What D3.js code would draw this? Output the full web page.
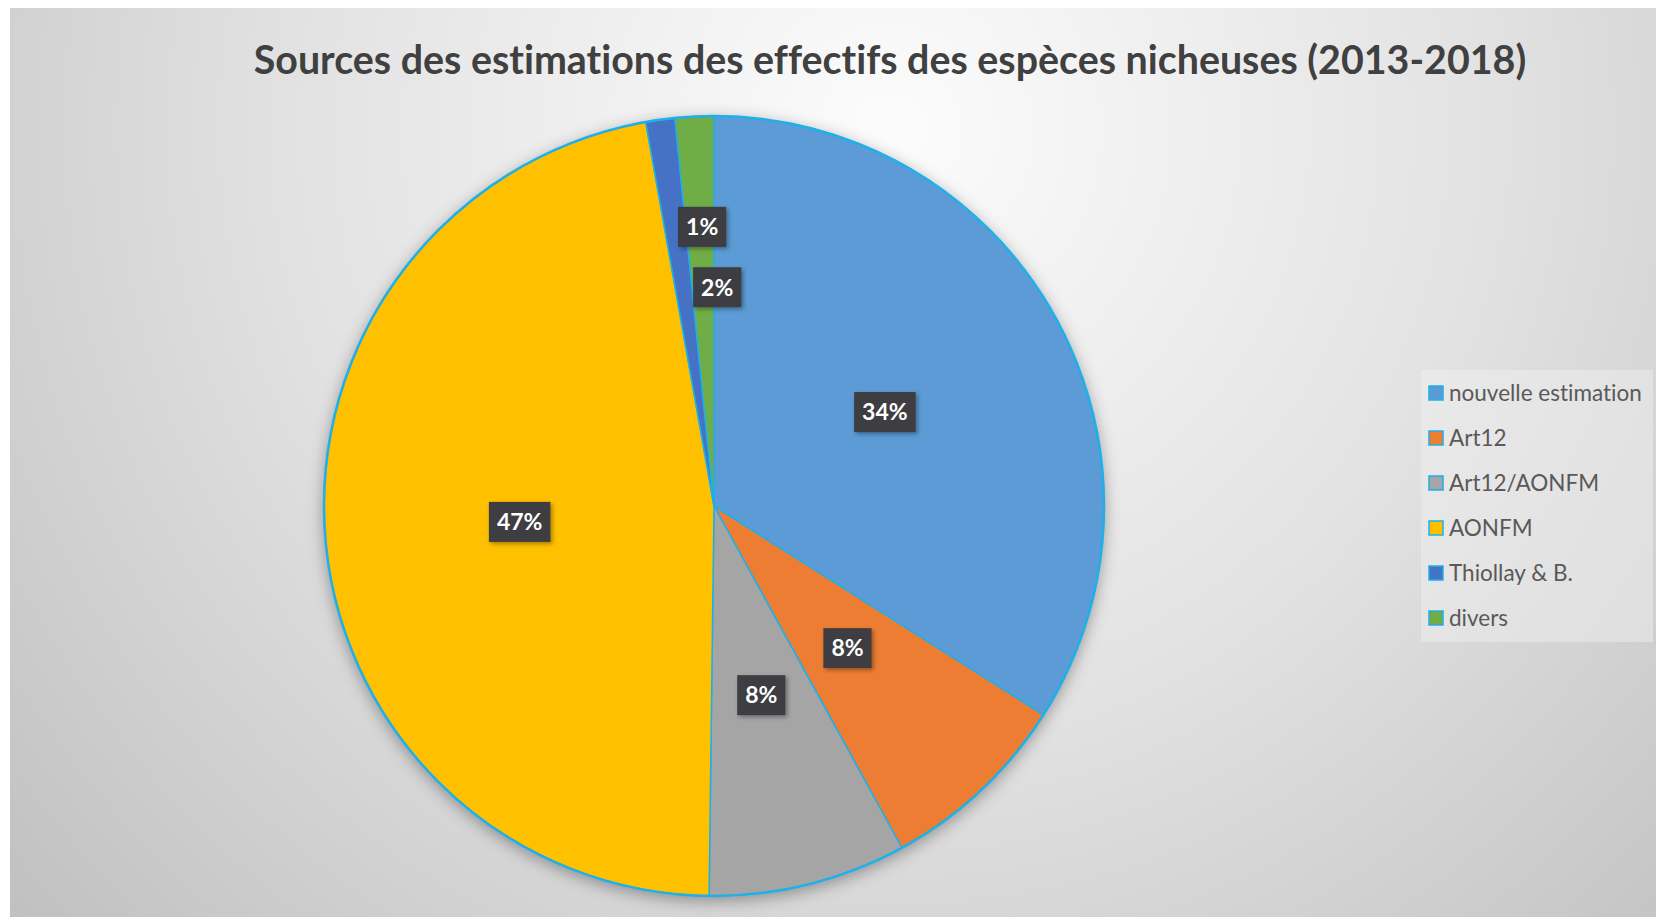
<!DOCTYPE html>
<html>
<head>
<meta charset="utf-8">
<script src="https://cdn.jsdelivr.net/npm/d3@7"></script>
<style>
  body { margin: 0; background: #fff; }
  svg { display: block; }
  text { font-variant-ligatures: none; }
</style>
</head>
<body>
<svg class="chart"></svg>
<script>
// parts of the breeding species estimates, by source (percent)
var sources = ["nouvelle estimation", "Art12", "Art12/AONFM", "AONFM", "Thiollay & B.", "divers"];
var shares = [34.0, 8.0, 8.2, 47.0, 1.2, 1.6];
var colors = ["#5b9bd5", "#ed7d31", "#a5a5a5", "#ffc000", "#4472c4", "#70ad47"];
// small slices get their labels pushed apart, like Excel does
var labelNudge = [[0, 0], [0, 0], [0, 0], [0, 0], [15, -86], [13, -24]];
var title = "Sources des estimations des effectifs des espèces nicheuses (2013-2018)";

var width = 1656,
    height = 917;

var cx = 714, cy = 506, radius = 390;

var chart = d3.select(".chart")
    .attr("width", width)
    .attr("height", height);

var defs = chart.append("defs");

var bg = defs.append("radialGradient")
    .attr("id", "bg")
    .attr("gradientUnits", "userSpaceOnUse")
    .attr("cx", 890).attr("cy", 130).attr("r", 1200);
bg.append("stop").attr("offset", 0).attr("stop-color", "#fcfcfc");
bg.append("stop").attr("offset", 0.5).attr("stop-color", "#e2e2e2");
bg.append("stop").attr("offset", 1).attr("stop-color", "#bfbfbf");

var shadow = defs.append("filter").attr("id", "pieShadow")
    .attr("x", "-10%").attr("y", "-10%").attr("width", "120%").attr("height", "120%");
shadow.append("feDropShadow")
    .attr("dx", 0).attr("dy", 4).attr("stdDeviation", 8)
    .attr("flood-color", "#000").attr("flood-opacity", 0.35);

var boxShadow = defs.append("filter").attr("id", "boxShadow")
    .attr("x", "-30%").attr("y", "-30%").attr("width", "160%").attr("height", "160%");
boxShadow.append("feDropShadow")
    .attr("dx", 2).attr("dy", 2).attr("stdDeviation", 2)
    .attr("flood-color", "#000").attr("flood-opacity", 0.35);

chart.append("rect")
    .attr("x", 10).attr("y", 8)
    .attr("width", width - 10).attr("height", height - 8)
    .attr("fill", "url(#bg)");

// title, sized to the width it has in the original
var t = chart.append("text")
    .text(title)
    .attr("x", 890)
    .attr("y", 74)
    .attr("text-anchor", "middle")
    .attr("font-family", "Lato, 'Open Sans', sans-serif")
    .attr("font-weight", 700)
    .attr("font-size", 34)
    .attr("fill", "#404040");
var tw = t.node().getComputedTextLength();
t.attr("font-size", 34 * 1273 / tw);

var data = sources.map(function(s, i) {
  return {source: s, value: shares[i], color: colors[i], nudge: labelNudge[i]};
});

var pie = d3.pie()
    .sort(null)
    .value(function(d) { return d.value; });

var arc = d3.arc()
    .innerRadius(0)
    .outerRadius(radius);

var labelArc = d3.arc()
    .innerRadius(radius * 0.5)
    .outerRadius(radius * 0.5);

var arcs = pie(data);
var total = d3.sum(shares);
var pct = d3.format(".0%");

var g = chart.append("g")
    .attr("transform", "translate(" + cx + "," + cy + ")");

g.append("g")
    .attr("filter", "url(#pieShadow)")
  .selectAll("path")
    .data(arcs)
    .enter()
    .append("path")
      .attr("d", arc)
      .attr("fill", function(d) { return d.data.color; })
      .attr("stroke", "#1fb0ea")
      .attr("stroke-width", 1.5)
      .attr("stroke-linejoin", "round");

g.append("circle")
    .attr("r", radius)
    .attr("fill", "none")
    .attr("stroke", "#1fb0ea")
    .attr("stroke-width", 2.5);

var labels = g.selectAll(".lbl")
    .data(arcs)
    .enter()
    .append("g")
      .attr("class", "lbl")
      .attr("transform", function(d) {
        var c = labelArc.centroid(d);
        return "translate(" + (c[0] + d.data.nudge[0]) + "," + (c[1] + d.data.nudge[1]) + ")";
      });

labels.append("rect")
    .attr("fill", "#3d3d42")
    .attr("filter", "url(#boxShadow)");

labels.append("text")
    .text(function(d) { return pct(d.data.value / total); })
    .attr("text-anchor", "middle")
    .attr("dy", "0.36em")
    .attr("font-family", "Lato, 'Open Sans', sans-serif")
    .attr("font-weight", 700)
    .attr("font-size", 23)
    .attr("fill", "#fff");

labels.each(function() {
  var sel = d3.select(this);
  var w = sel.select("text").node().getComputedTextLength() + 16;
  sel.select("rect")
      .attr("x", -w / 2).attr("y", -20)
      .attr("width", w).attr("height", 40);
});

// legend
var legend = chart.append("g")
    .attr("transform", "translate(1421,370)");

legend.append("rect")
    .attr("width", 232).attr("height", 272)
    .attr("fill", "#f2f2f2")
    .attr("opacity", 0.45);

var items = legend.selectAll(".item")
    .data(data)
    .enter()
    .append("g")
      .attr("class", "item")
      .attr("transform", function(d, i) { return "translate(0," + (23 + i * 45) + ")"; });

items.append("rect")
    .attr("x", 8).attr("y", -7)
    .attr("width", 14).attr("height", 14)
    .attr("fill", function(d) { return d.color; })
    .attr("stroke", "#1fb0ea")
    .attr("stroke-width", 1.5);

items.append("text")
    .text(function(d) { return d.source; })
    .attr("x", 28)
    .attr("dy", "0.35em")
    .attr("font-family", "Lato, 'Open Sans', sans-serif")
    .attr("font-size", 22.5)
    .attr("fill", "#595959");
</script>
</body>
</html>
